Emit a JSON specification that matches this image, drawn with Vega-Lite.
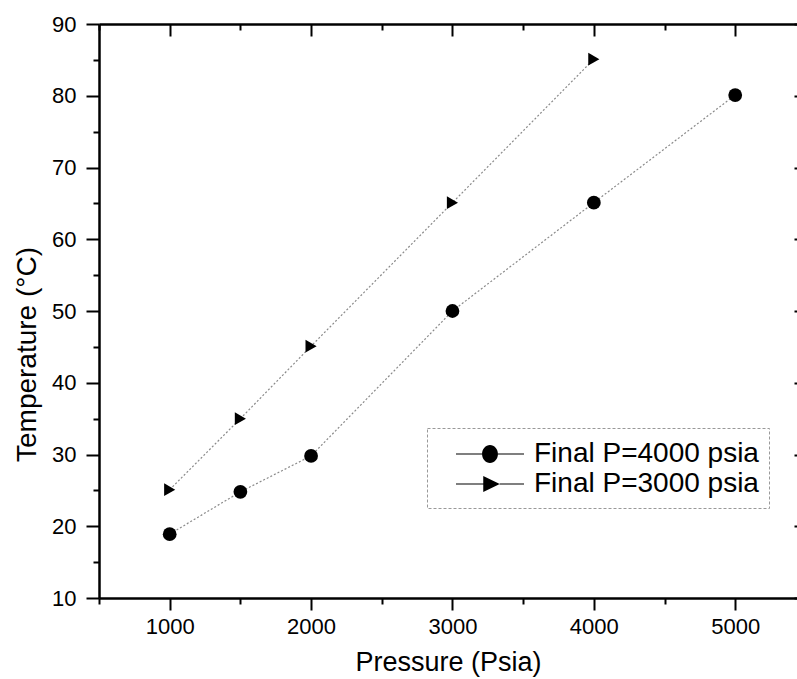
{
  "$schema": "https://vega.github.io/schema/vega-lite/v6.json",
  "width": 698,
  "height": 574,
  "autosize": {"type": "none"},
  "padding": {"left": 99, "top": 24, "right": 0, "bottom": 81},
  "background": "white",
  "config": {
    "view": {"stroke": null},
    "axis": {
      "grid": false,
      "domainColor": "black",
      "tickColor": "black",
      "labelColor": "black",
      "titleColor": "black",
      "labelFont": "Liberation Sans",
      "titleFont": "Liberation Sans",
      "titleFontWeight": "normal",
      "domainWidth": 2.5,
      "tickWidth": 2
    },
    "legend": {"labelFont": "Liberation Sans", "strokeDash": [3, 2], "strokeWidth": 1, "strokeColor": "#999999"}
  },
  "data": {
    "values": [
      {"p": 1000, "t": 18.9, "series": "Final P=4000 psia"},
      {"p": 1500, "t": 24.8, "series": "Final P=4000 psia"},
      {"p": 2000, "t": 29.8, "series": "Final P=4000 psia"},
      {"p": 3000, "t": 50.0, "series": "Final P=4000 psia"},
      {"p": 4000, "t": 65.1, "series": "Final P=4000 psia"},
      {"p": 5000, "t": 80.1, "series": "Final P=4000 psia"},
      {"p": 1000, "t": 25.1, "series": "Final P=3000 psia"},
      {"p": 1500, "t": 35.0, "series": "Final P=3000 psia"},
      {"p": 2000, "t": 45.1, "series": "Final P=3000 psia"},
      {"p": 3000, "t": 65.1, "series": "Final P=3000 psia"},
      {"p": 4000, "t": 85.1, "series": "Final P=3000 psia"}
    ]
  },
  "layer": [
    {
      "mark": {"type": "line", "stroke": "#8a8a8a", "strokeWidth": 1.2, "strokeDash": [2, 2]},
      "encoding": {
        "x": {
          "field": "p", "type": "quantitative",
          "scale": {"domain": [500, 5437], "nice": false, "zero": false},
          "axis": {
            "orient": "bottom",
            "values": [1000, 2000, 3000, 4000, 5000],
            "format": "d",
            "tickSize": 12,
            "labelFontSize": 22,
            "labelPadding": 6,
            "title": "Pressure (Psia)",
            "titleFontSize": 27,
            "titlePadding": 12
          }
        },
        "y": {
          "field": "t", "type": "quantitative",
          "scale": {"domain": [10, 90], "nice": false, "zero": false},
          "axis": {
            "orient": "left",
            "values": [10, 20, 30, 40, 50, 60, 70, 80, 90],
            "format": "d",
            "tickSize": 13,
            "labelFontSize": 22,
            "labelPadding": 10,
            "title": "Temperature (°C)",
            "titleFontSize": 28,
            "titlePadding": 10,
            "titleY": 330
          }
        },
        "detail": {"field": "series", "type": "nominal"}
      }
    },
    {
      "mark": {"type": "point", "filled": true, "color": "black", "opacity": 1},
      "encoding": {
        "x": {"field": "p", "type": "quantitative", "axis": null},
        "y": {"field": "t", "type": "quantitative", "axis": null},
        "shape": {
          "field": "series", "type": "nominal",
          "scale": {"domain": ["Final P=4000 psia", "Final P=3000 psia"], "range": ["circle", "triangle-right"]},
          "legend": null
        },
        "size": {
          "field": "series", "type": "nominal",
          "scale": {"domain": ["Final P=4000 psia", "Final P=3000 psia"], "range": [190, 165]},
          "legend": null
        }
      }
    },
    {
      "mark": {"type": "point", "fill": "black", "filled": true, "opacity": 0, "size": 900},
      "encoding": {
        "x": {"field": "p", "type": "quantitative", "axis": null},
        "y": {"field": "t", "type": "quantitative", "axis": null},
        "shape": {
          "field": "series", "type": "nominal",
          "scale": {
            "domain": ["Final P=4000 psia", "Final P=3000 psia"],
            "range": [
              "M-2.27,-0.035H-0.53V0.035H-2.27Z M0.53,-0.04H2.27V0.04H0.53Z M-0.53,0A0.53,0.6 0 1,0 0.53,0A0.53,0.6 0 1,0 -0.53,0Z",
              "M-2.27,-0.035H-0.45V0.035H-2.27Z M0.65,-0.04H2.27V0.04H0.65Z M-0.45,-0.53L0.65,0L-0.45,0.53Z"
            ]
          },
          "legend": {
            "orient": "none",
            "legendX": 328,
            "legendY": 404,
            "title": null,
            "padding": 10,
            "symbolOffset": 37,
            "symbolOpacity": 1,
            "symbolFillColor": "black",
            "symbolSize": 900,
            "labelFontSize": 28,
            "labelColor": "black",
            "labelOffset": 28,
            "labelLimit": 0,
            "rowPadding": 0
          }
        }
      }
    },
    {
      "mark": {"type": "point", "opacity": 0},
      "encoding": {
        "x": {
          "field": "p", "type": "quantitative",
          "axis": {"orient": "bottom", "values": [500, 1500, 2500, 3500, 4500], "labels": false, "domain": false, "tickSize": 6, "title": null}
        },
        "y": {
          "field": "t", "type": "quantitative",
          "axis": {"orient": "left", "values": [15, 25, 35, 45, 55, 65, 75, 85], "labels": false, "domain": false, "tickSize": 6, "title": null}
        }
      }
    },
    {
      "mark": {"type": "point", "opacity": 0},
      "encoding": {
        "x": {
          "field": "p", "type": "quantitative",
          "axis": {"orient": "top", "values": [1000, 2000, 3000, 4000, 5000], "labels": false, "tickSize": -12, "title": null}
        },
        "y": {
          "field": "t", "type": "quantitative",
          "axis": {"orient": "right", "offset": 9, "domain": false, "values": [10, 20, 30, 40, 50, 60, 70, 80, 90], "labels": false, "tickSize": -12, "title": null}
        }
      }
    },
    {
      "mark": {"type": "point", "opacity": 0},
      "encoding": {
        "x": {
          "field": "p", "type": "quantitative",
          "axis": {"orient": "top", "values": [500, 1500, 2500, 3500, 4500], "labels": false, "domain": false, "tickSize": -6, "title": null}
        },
        "y": {
          "field": "t", "type": "quantitative",
          "axis": {"orient": "right", "offset": 9, "domain": false, "values": [15, 25, 35, 45, 55, 65, 75, 85], "labels": false, "tickSize": -6, "title": null}
        }
      }
    }
  ],
  "resolve": {
    "axis": {"x": "independent", "y": "independent"},
    "scale": {"shape": "independent", "size": "independent"},
    "legend": {"shape": "independent", "size": "independent"}
  }
}
